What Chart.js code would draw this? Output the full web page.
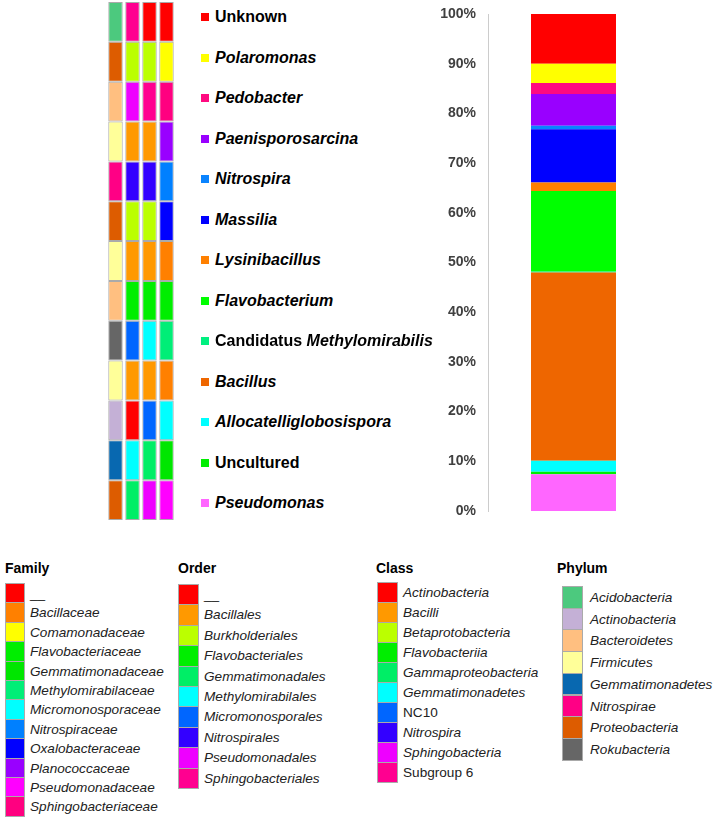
<!DOCTYPE html>
<html>
<head>
<meta charset="utf-8">
<title>Genus composition</title>
<script src="https://cdn.jsdelivr.net/npm/chart.js@4.4.0/dist/chart.umd.min.js"></script>
<style>
  body { margin: 0; background: #fff; font-family: 'Liberation Sans', Arial, sans-serif; }
  #page { position: relative; width: 713px; height: 819px; overflow: hidden; }
  canvas { position: absolute; }
  .genus { position: absolute; left: 201px; height: 20px; display: flex; align-items: center;
           font-size: 16px; font-weight: bold; color: #000; white-space: nowrap; }
  .genus .sw { width: 8px; height: 8px; margin-right: 6px; }
  .ttl { position: absolute; top: 559px; font-size: 14px; font-weight: bold; color: #000; line-height: 18px; }
  .box { position: absolute; box-sizing: border-box; border: 1px solid #aaa; }
  .lab { position: absolute; font-size: 13.6px; font-style: italic; color: #222; white-space: nowrap; }
</style>
</head>
<body>
<div id="page">
  <canvas id="grid" width="68" height="518" style="left:107px; top:2px;"></canvas>
  <canvas id="bar" width="239" height="525" style="left:420px; top:0px;"></canvas>
</div>
<script>
'use strict';

// genera, top of the legend first
var genera = ['Unknown', 'Polaromonas', 'Pedobacter', 'Paenisporosarcina', 'Nitrospira', 'Massilia',
  'Lysinibacillus', 'Flavobacterium', 'Candidatus Methylomirabilis', 'Bacillus',
  'Allocatelliglobosispora', 'Uncultured', 'Pseudomonas'];
// relative abundance (%)
var abundance = [10.0, 3.9, 2.2, 6.4, 0.7, 10.7, 1.7, 16.2, 0.2, 37.9, 2.2, 0.5, 7.4];

// taxonomy of each genus
var phylumOf = ['Acidobacteria', 'Proteobacteria', 'Bacteroidetes', 'Firmicutes', 'Nitrospirae', 'Proteobacteria',
  'Firmicutes', 'Bacteroidetes', 'Rokubacteria', 'Firmicutes', 'Actinobacteria', 'Gemmatimonadetes', 'Proteobacteria'];
var classOf = ['Subgroup 6', 'Betaprotobacteria', 'Sphingobacteria', 'Bacilli', 'Nitrospira', 'Betaprotobacteria',
  'Bacilli', 'Flavobacteriia', 'NC10', 'Bacilli', 'Actinobacteria', 'Gemmatimonadetes', 'Gammaproteobacteria'];
var orderOf = ['__', 'Burkholderiales', 'Sphingobacteriales', 'Bacillales', 'Nitrospirales', 'Burkholderiales',
  'Bacillales', 'Flavobacteriales', 'Methylomirabilales', 'Bacillales', 'Micromonosporales', 'Gemmatimonadales', 'Pseudomonadales'];
var familyOf = ['__', 'Comamonadaceae', 'Sphingobacteriaceae', 'Planococcaceae', 'Nitrospiraceae', 'Oxalobacteraceae',
  'Bacillaceae', 'Flavobacteriaceae', 'Methylomirabilaceae', 'Bacillaceae', 'Micromonosporaceae', 'Gemmatimonadaceae', 'Pseudomonadaceae'];

var ranks = ['Phylum', 'Class', 'Order', 'Family'];

var familyNames = ['__', 'Bacillaceae', 'Comamonadaceae', 'Flavobacteriaceae', 'Gemmatimonadaceae', 'Methylomirabilaceae',
  'Micromonosporaceae', 'Nitrospiraceae', 'Oxalobacteraceae', 'Planococcaceae', 'Pseudomonadaceae', 'Sphingobacteriaceae'];
var orderNames = ['__', 'Bacillales', 'Burkholderiales', 'Flavobacteriales', 'Gemmatimonadales', 'Methylomirabilales',
  'Micromonosporales', 'Nitrospirales', 'Pseudomonadales', 'Sphingobacteriales'];
var classNames = ['Actinobacteria', 'Bacilli', 'Betaprotobacteria', 'Flavobacteriia', 'Gammaproteobacteria',
  'Gemmatimonadetes', 'NC10', 'Nitrospira', 'Sphingobacteria', 'Subgroup 6'];
var phylumNames = ['Acidobacteria', 'Actinobacteria', 'Bacteroidetes', 'Firmicutes', 'Gemmatimonadetes',
  'Nitrospirae', 'Proteobacteria', 'Rokubacteria'];

// colours
var genusColors = ['#ff0000', '#ffff00', '#ff0a80', '#9900ff', '#0a84ff', '#0000ff', '#ff8000',
  '#00ff00', '#00f080', '#ee6600', '#00ffff', '#00ee00', '#ff66ff'];
var familyColors = ['#ff0000', '#ff8000', '#ffff00', '#00ee00', '#00e600', '#00ee77', '#00ffff',
  '#0080ff', '#0000ff', '#9900ff', '#ff00ff', '#ff0080'];
var orderColors = ['#ff0000', '#ff9900', '#bbff00', '#00ee00', '#00ee66', '#00ffff', '#0066ff',
  '#3300ff', '#ee00ff', '#ff0090'];
var classColors = ['#ff0000', '#ff9900', '#bbff00', '#00ee00', '#00ee66', '#00ffff', '#0066ff',
  '#3300ff', '#ee00ff', '#ff0090'];
var phylumColors = ['#4cc97e', '#c4b0d6', '#ffbf80', '#ffff99', '#0868b0', '#ff0085', '#dd5c00', '#666666'];

var uprightWords = ['Unknown', 'Uncultured', 'Candidatus', 'NC10', 'Subgroup 6', '__'];

Chart.defaults.font.family = "'Liberation Sans', Arial, sans-serif";
Chart.defaults.animation = false;
Chart.defaults.plugins.legend.display = false;
Chart.defaults.plugins.tooltip.enabled = false;

function colorOf(name, names, colors) {
  return colors[names.indexOf(name)];
}

// taxonomy grid: one stacked column per rank, one cell per genus
var gridSets = [];
for (var i = 0; i < genera.length; i++) {
  gridSets.push({
    label: genera[i],
    data: [1, 1, 1, 1],
    backgroundColor: [
      colorOf(phylumOf[i], phylumNames, phylumColors),
      colorOf(classOf[i], classNames, classColors),
      colorOf(orderOf[i], orderNames, orderColors),
      colorOf(familyOf[i], familyNames, familyColors)
    ],
    borderColor: '#aaaaaa',
    borderWidth: 1,
    borderSkipped: false,
    categoryPercentage: 1,
    barPercentage: 0.85
  });
}

new Chart(document.getElementById('grid'), {
  type: 'bar',
  data: { labels: ranks, datasets: gridSets },
  options: {
    responsive: false,
    layout: { padding: 0 },
    scales: {
      x: { display: false, stacked: true },
      y: { display: false, stacked: true, reverse: true, min: 0, max: genera.length }
    }
  }
});

// stacked relative abundance bar, bottom genus first
var barSets = [];
for (var j = genera.length - 1; j >= 0; j--) {
  barSets.push({
    label: genera[j],
    data: [abundance[j]],
    backgroundColor: genusColors[j],
    borderWidth: 0,
    categoryPercentage: 1,
    barPercentage: 0.497
  });
}

new Chart(document.getElementById('bar'), {
  type: 'bar',
  data: { labels: ['Sample'], datasets: barSets },
  options: {
    responsive: false,
    layout: { padding: { top: 14, bottom: 14, left: 0, right: 0 } },
    scales: {
      x: { display: false, stacked: true },
      y: {
        stacked: true,
        min: 0,
        max: 100,
        // hidden grid, but its tick length keeps the labels off the axis line
        grid: { display: false, drawTicks: true, tickLength: 12 },
        border: { display: true, color: '#cccccc', width: 1 },
        afterFit: function(scale) { scale.width = 68; },
        ticks: {
          stepSize: 10,
          padding: 0,
          color: '#404040',
          font: { size: 14, weight: 'bold' },
          callback: function(v) { return v + '%'; }
        }
      }
    }
  }
});

var page = document.getElementById('page');

// genus legend
for (var g = 0; g < genera.length; g++) {
  var row = document.createElement('div');
  row.className = 'genus';
  row.style.top = (17.3 + g * 40.5 - 10) + 'px';
  var sw = document.createElement('span');
  sw.className = 'sw';
  sw.style.background = genusColors[g];
  row.appendChild(sw);
  var parts = genera[g].split(' ');
  for (var p = 0; p < parts.length; p++) {
    var sp = document.createElement('span');
    sp.textContent = (p > 0 ? '\u00a0' : '') + parts[p];
    if (uprightWords.indexOf(parts[p]) < 0) sp.style.fontStyle = 'italic';
    row.appendChild(sp);
  }
  page.appendChild(row);
}

// rank legends under the chart
function rankLegend(title, names, colors, tx, sx, sw, top, pitch, lx) {
  var t = document.createElement('div');
  t.className = 'ttl';
  t.style.left = tx + 'px';
  t.textContent = title;
  page.appendChild(t);
  for (var k = 0; k < names.length; k++) {
    var b = document.createElement('div');
    b.className = 'box';
    b.style.left = sx + 'px';
    b.style.top = (top + k * pitch) + 'px';
    b.style.width = sw + 'px';
    b.style.height = (pitch + 1) + 'px';
    b.style.background = colors[k];
    page.appendChild(b);
    var l = document.createElement('div');
    l.className = 'lab';
    l.style.left = lx + 'px';
    l.style.top = (top + k * pitch + 1) + 'px';
    l.style.lineHeight = pitch + 'px';
    l.textContent = names[k];
    if (uprightWords.indexOf(names[k]) >= 0) l.style.fontStyle = 'normal';
    page.appendChild(l);
  }
}

rankLegend('Family', familyNames, familyColors, 5, 5, 20, 583, 19.4, 30);
rankLegend('Order', orderNames, orderColors, 178, 178, 21, 584, 20.4, 204);
rankLegend('Class', classNames, classColors, 376, 377, 21, 582, 20, 403);
rankLegend('Phylum', phylumNames, phylumColors, 557, 562, 21, 586, 21.7, 590);
</script>
</body>
</html>
